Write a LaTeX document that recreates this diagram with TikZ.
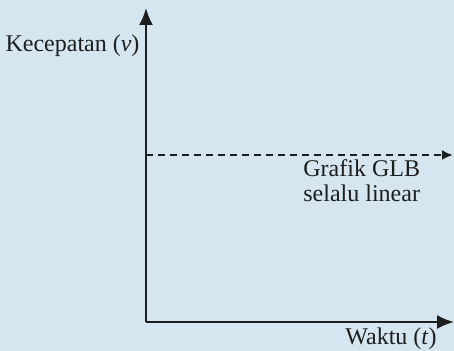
\documentclass[tikz,border=0pt]{standalone}
\usepackage{fontspec}
\setmainfont{Liberation Serif}
\usetikzlibrary{arrows.meta}
\definecolor{bg}{HTML}{D5E6F0}
\definecolor{ink}{HTML}{1E1E1E}
\begin{document}
\begin{tikzpicture}[x=0.5pt,y=-0.5pt,
  axis/.style={draw=ink,line width=1.1pt,-{Latex[length=8.5pt,width=7pt]}},
  dline/.style={draw=ink,line width=1.1pt,dash pattern=on 3.5pt off 2.5pt,-{Latex[length=5.5pt,width=5pt]}},
  lbl/.style={text=ink,font=\fontsize{12}{12.5}\selectfont,inner sep=0pt}]
\fill[bg] (0,0) rectangle (454,351);
\useasboundingbox (0,0) rectangle (454,351);
\coordinate (O) at (146,322);
\coordinate (Ytop) at (146,8);
\coordinate (Xend) at (454,322);
\coordinate (D0) at (146,155);
\coordinate (D1) at (453,155);
\draw[axis] (O) -- (Ytop);
\draw[axis] (O) -- (Xend);
\draw[dline] (D0) -- (D1);
\node[lbl,anchor=base] (v) at (72.5,52) {Kecepatan (\textit{v})};
\node[lbl,anchor=base west] (g1) at (303,177) {Grafik GLB};
\node[lbl,anchor=base west] (g2) at (303,202) {selalu linear};
\node[lbl,anchor=base] (t) at (391,344) {Waktu (\textit{t})};
\end{tikzpicture}
\end{document}
